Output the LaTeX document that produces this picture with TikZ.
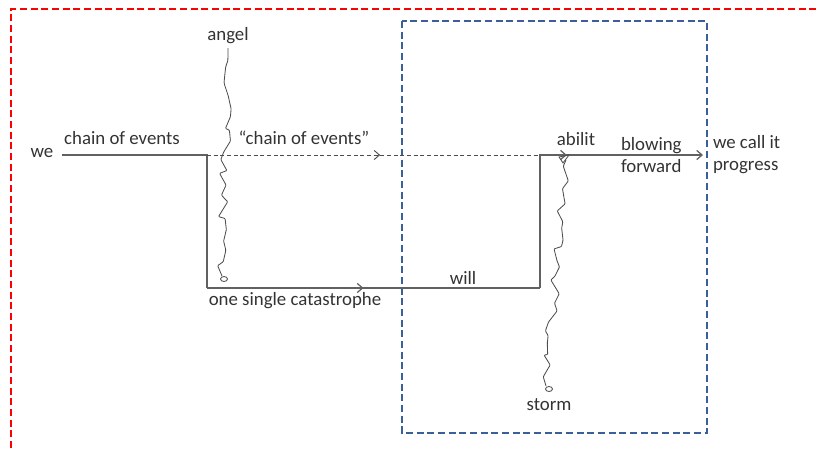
\documentclass[tikz,border=0pt]{standalone}
\usepackage{fontspec}
\setmainfont{Carlito}
\usetikzlibrary{arrows.meta,decorations.pathmorphing,decorations.markings}

\tikzset{
  >={Straight Barb[length=3.2pt,width=5.5pt]},
  lbl/.style={text=black!80, font=\fontsize{11.3}{13.2}\selectfont, inner sep=1pt},
  flow/.style={draw=black!62, line width=0.75pt},
  hint/.style={draw=black!70, line width=0.55pt, dash pattern=on 2.4pt off 1.6pt},
  midarrow/.style={postaction={decorate}, decoration={markings, mark=at position #1 with {\arrow{>}}}},
  wiggle/.style={draw=black!70, line width=0.5pt, rounded corners=0.5pt,
    decorate, decoration={random steps, segment length=5pt, amplitude=3.6pt}},
  frame/.style={line width=1.4pt, dash pattern=on 4.2pt off 2.2pt},
}

\begin{document}
\begin{tikzpicture}[x=0.6pt, y=-0.6pt]
  \useasboundingbox (0,0) rectangle (818,448);
  \pgfmathsetseed{11}

  % outer and inner frames
  \draw[frame, red] (11,448) -- (11,9) -- (818,9);
  \draw[frame, draw={rgb,255:red,58;green,95;blue,154}] (402,21) rectangle (707,433);

  % turning points of the route
  \coordinate (start) at (62,155);
  \coordinate (drop) at (207,155);
  \coordinate (floor) at (207,288);
  \coordinate (rise) at (540,288);
  \coordinate (up) at (540,155);
  \coordinate (fwd) at (703,155);

  % labels
  \node[lbl] (we) at (42,153) {we};
  \node[lbl] (chain) at (122,138) {chain of events};
  \node[lbl] (quoted) at (304,138) {“chain of events”};
  \node[lbl] (angel) at (228,36) {angel};
  \node[lbl] (abilit) at (576,139) {abilit};
  \node[lbl, anchor=west, align=left] (blow) at (619,155) {blowing\\forward};
  \node[lbl, anchor=west, align=left] (progress) at (711,155) {we call it\\progress};
  \node[lbl] (will) at (463,278) {will};
  \node[lbl] (catastrophe) at (295,301) {one single catastrophe};
  \node[lbl] (storm) at (549,405) {storm};

  % the route
  \draw[flow] (start) -- (drop) -- (floor);
  \draw[flow, midarrow=0.47] (floor) -- (rise);
  \draw[flow, ->, midarrow=0.54] (rise) -- (up) -- (fwd);
  \draw[hint, midarrow=0.52] (drop) -- (up);

  % angel and storm
  \draw[wiggle] (228,48) -- (222,276);
  \draw[black!70, line width=0.5pt] (224,279) ellipse (3.5 and 2.5);
  \draw[wiggle] (566,160) -- (546,386);
  \draw[black!70, line width=0.5pt] (549,389) ellipse (3.5 and 2.5);
  \draw[black!70, line width=0.5pt] (563,163) -- (569,155) -- (559,157) -- cycle;
\end{tikzpicture}
\end{document}
